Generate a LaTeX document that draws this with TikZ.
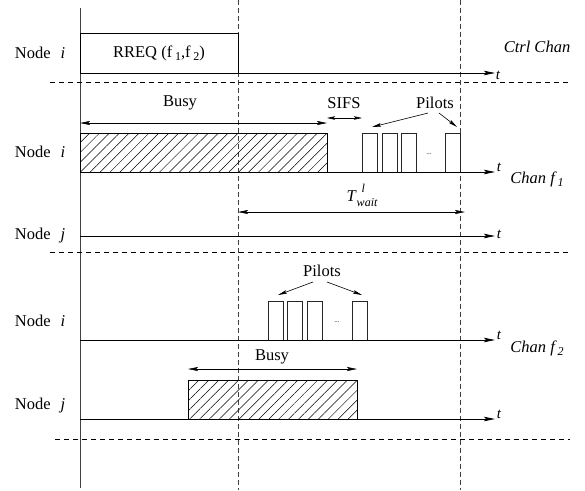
\documentclass[tikz,border=0pt]{standalone}
\usepackage{fontspec}
\setmainfont{Liberation Serif}
\usetikzlibrary{arrows.meta,patterns.meta}
\begin{document}
\begin{tikzpicture}[x=1pt,y=-1pt,
  font=\rmfamily\fontsize{16.5}{19}\selectfont,
  axisline/.style={line width=0.9pt,-{Stealth[length=11pt,width=4.5pt,inset=2pt]}},
  dimarrow/.style={line width=0.6pt,{Stealth[length=10pt,width=4pt,inset=2pt]}-{Stealth[length=10pt,width=4pt,inset=2pt]}},
  smallarrow/.style={line width=0.6pt,{Stealth[length=8pt,width=3.5pt,inset=1.5pt]}-{Stealth[length=8pt,width=3.5pt,inset=1.5pt]}},
  ptr/.style={line width=0.6pt,-{Stealth[length=9pt,width=3.5pt,inset=1.5pt]}},
  sep/.style={line width=0.6pt,dash pattern=on 5pt off 4pt},
  vsep/.style={line width=0.6pt,dash pattern=on 5pt off 3pt,black!75},
  hatchbox/.style={draw,line width=0.8pt,inner sep=0pt,
    pattern={Lines[angle=45,distance=7pt,line width=0.5pt]}},
  pilotbox/.style={draw,line width=0.6pt,black!85,inner sep=0pt,minimum width=15pt,minimum height=39pt},
  lbl/.style={inner sep=0pt},
  tlbl/.style={inner sep=0pt,font=\rmfamily\fontsize{15}{17}\selectfont\itshape}]
\useasboundingbox (0,0) rectangle (585,490);

% main vertical axis and dashed verticals
\coordinate (vt) at (80,8); \coordinate (vb) at (80,488);
\draw[line width=0.8pt,black!75] (vt) -- (vb);
\coordinate (d1t) at (238,0); \coordinate (d1b) at (238,490);
\coordinate (d2t) at (460,0); \coordinate (d2b) at (460,490);
\draw[vsep] (d1t) -- (d1b);
\draw[vsep] (d2t) -- (d2b);

% horizontal separators
\coordinate (h1a) at (50,82);  \coordinate (h1b) at (570,82);
\coordinate (h2a) at (50,252); \coordinate (h2b) at (570,252);
\coordinate (h3a) at (55,439); \coordinate (h3b) at (570,439);
\draw[sep] (h1a) -- (h1b);
\draw[sep] (h2a) -- (h2b);
\draw[sep] (h3a) -- (h3b);

% ---- Control channel ----
\node[draw,line width=0.8pt,inner sep=0pt,minimum width=158pt,minimum height=40pt] (rreq) at (159,53)
  {RREQ (f\,\raisebox{-0.4ex}{\fontsize{12}{14}\selectfont 1},f\,\raisebox{-0.4ex}{\fontsize{12}{14}\selectfont 2})};
\coordinate (a0s) at (80,73); \coordinate (a0e) at (495,73);
\draw[axisline] (a0s) -- (a0e);
\node[tlbl] (t0) at (498,75) {t};
\node[lbl] (n0) at (40,53) {Node\hspace{0.6em}\textit{i}};
\node[lbl,font=\rmfamily\fontsize{16.5}{19}\selectfont\itshape] (ctrl) at (537,47) {Ctrl Chan};

% ---- Channel f1 ----
\node[lbl] (n1) at (40,152) {Node\hspace{0.6em}\textit{i}};
\node[lbl] (n2) at (40,236) {Node\hspace{0.6em}\textit{j}};
\node[hatchbox,minimum width=247pt,minimum height=39pt] (busy1) at (203.5,152.5) {};
\node[pilotbox] (p1) at (369.5,152.5) {};
\node[pilotbox] (p2) at (389.5,152.5) {};
\node[pilotbox] (p3) at (408.5,152.5) {};
\node[pilotbox] (p4) at (452.5,152.5) {};
\node[lbl,font=\scriptsize] (dots1) at (429,154) {...};
\coordinate (a1s) at (80,172); \coordinate (a1e) at (495,172);
\draw[axisline] (a1s) -- (a1e);
\node[tlbl] (t1) at (499,167) {t};
\coordinate (a2s) at (80,236); \coordinate (a2e) at (495,236);
\draw[axisline] (a2s) -- (a2e);
\node[tlbl] (t2) at (499,234) {t};
\node[lbl,font=\rmfamily\fontsize{16.5}{19}\selectfont\itshape] (chf1) at (537,179)
  {Chan f\,\raisebox{-0.45ex}{\fontsize{12}{14}\selectfont 1}};

% Busy arrow f1
\coordinate (b1l) at (80,123); \coordinate (b1r) at (327,123);
\draw[dimarrow] (b1l) -- (b1r);
\node[lbl] (busyl1) at (180,103) {Busy};
% SIFS
\coordinate (s1l) at (327,118); \coordinate (s1r) at (362,118);
\draw[smallarrow] (s1l) -- (s1r);
\node[lbl] (sifs) at (344,103) {SIFS};
% Pilots f1
\node[lbl] (pil1) at (435,103) {Pilots};
\coordinate (pa1) at (428,113); \coordinate (pt1) at (372,127);
\coordinate (pa2) at (439,113); \coordinate (pt2) at (457,127);
\draw[ptr] (pa1) -- (pt1);
\draw[ptr] (pa2) -- (pt2);
% T wait
\coordinate (w1l) at (238,212); \coordinate (w1r) at (465,212);
\draw[dimarrow] (w1l) -- (w1r);
\node[lbl] (twait) at (362,195)
  {\textit{T}\rlap{\raisebox{1.25ex}{\hspace{5pt}\fontsize{12}{14}\selectfont\itshape l}}\raisebox{-0.6ex}{\fontsize{12}{14}\selectfont\itshape wait}};

% ---- Channel f2 ----
\node[lbl] (n3) at (40,321) {Node\hspace{0.6em}\textit{i}};
\node[lbl] (n4) at (40,406) {Node\hspace{0.6em}\textit{j}};
\node[pilotbox] (q1) at (275.5,320.5) {};
\node[pilotbox] (q2) at (294.5,320.5) {};
\node[pilotbox] (q3) at (314.5,320.5) {};
\node[pilotbox] (q4) at (359.5,320.5) {};
\node[lbl,font=\scriptsize] (dots2) at (337,322) {...};
\coordinate (a3s) at (80,340); \coordinate (a3e) at (495,340);
\draw[axisline] (a3s) -- (a3e);
\node[tlbl] (t3) at (499,335) {t};
\node[lbl,font=\rmfamily\fontsize{16.5}{19}\selectfont\itshape] (chf2) at (537,348)
  {Chan f\,\raisebox{-0.45ex}{\fontsize{12}{14}\selectfont 2}};
\node[lbl] (pil2) at (322,271) {Pilots};
\coordinate (qa1) at (313,282); \coordinate (qt1) at (278,295);
\coordinate (qa2) at (327,282); \coordinate (qt2) at (362,295);
\draw[ptr] (qa1) -- (qt1);
\draw[ptr] (qa2) -- (qt2);

\node[hatchbox,minimum width=169pt,minimum height=39pt] (busy2) at (272.5,399.5) {};
\coordinate (a4s) at (80,419); \coordinate (a4e) at (495,419);
\draw[axisline] (a4s) -- (a4e);
\node[tlbl] (t4) at (499,414) {t};
\coordinate (b2l) at (188,369); \coordinate (b2r) at (357,369);
\draw[dimarrow] (b2l) -- (b2r);
\node[lbl] (busyl2) at (272,357) {Busy};
\end{tikzpicture}
\end{document}
